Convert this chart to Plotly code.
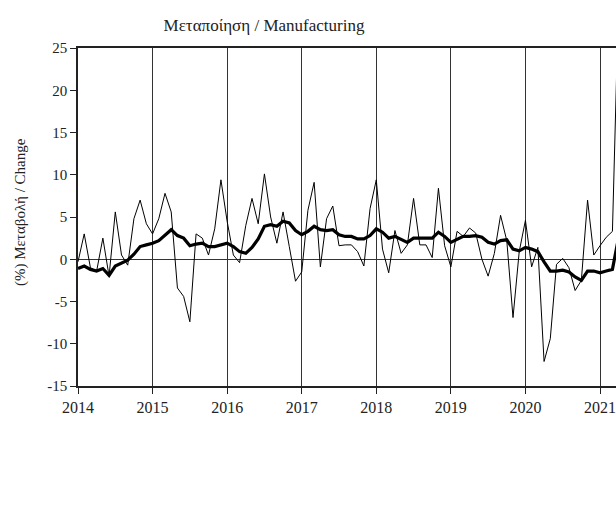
import plotly.graph_objects as go
import pandas as pd

# Monthly year-on-year % change, Manufacturing (Jan 2014 - Apr 2021)
months = pd.period_range("2014-01", "2021-04", freq="M")

monthly_change = [
    -0.3, 3.0, -1.0, -1.4, 2.5, -2.0, 5.6, 0.5, -0.7, 4.8, 7.0, 4.2,      # 2014
    3.0, 4.8, 7.8, 5.6, -3.4, -4.4, -7.4, 3.0, 2.5, 0.5, 3.6, 9.4,       # 2015
    4.5, 0.5, -0.4, 4.0, 7.2, 4.2, 10.1, 5.0, 1.9, 5.6, 1.5, -2.6,       # 2016
    -1.5, 5.8, 9.1, -0.9, 4.8, 6.3, 1.6, 1.7, 1.7, 0.9, -0.8, 6.0,       # 2017
    9.4, 1.2, -1.6, 3.4, 0.7, 1.7, 7.2, 1.7, 1.7, 0.2, 8.4, 1.6,         # 2018
    -0.9, 3.3, 2.7, 3.7, 3.1, 0.0, -2.0, 0.7, 5.2, 2.2, -6.9, 0.9,       # 2019
    4.6, -0.9, 1.4, -12.1, -9.4, -0.6, 0.1, -1.0, -3.7, -2.5, 7.0, 0.5,  # 2020
    1.6, 2.6, 3.3, 31.0,                                                 # 2021
]

moving_avg = [
    -1.1, -0.8, -1.2, -1.4, -1.1, -1.9, -0.8, -0.4, -0.1, 0.6, 1.5, 1.7,
    1.9, 2.2, 2.9, 3.5, 2.8, 2.5, 1.6, 1.8, 1.9, 1.5, 1.5, 1.7,
    1.9, 1.5, 0.9, 0.7, 1.4, 2.4, 3.9, 4.1, 3.9, 4.5, 4.3, 3.4,
    2.9, 3.3, 3.9, 3.5, 3.4, 3.5, 2.9, 2.7, 2.7, 2.4, 2.4, 2.8,
    3.6, 3.2, 2.5, 2.7, 2.4, 2.0, 2.5, 2.5, 2.5, 2.5, 3.2, 2.7,
    2.0, 2.4, 2.7, 2.7, 2.8, 2.6, 2.0, 1.8, 2.2, 2.3, 1.2, 1.0,
    1.4, 1.2, 0.9, -0.3, -1.4, -1.4, -1.3, -1.5, -2.1, -2.5, -1.4, -1.4,
    -1.6, -1.4, -1.2, 2.6,
]

year_ticks = [2014, 2015, 2016, 2017, 2018, 2019, 2020, 2021]
y_ticks = [25, 20, 15, 10, 5, 0, -5, -10, -15]

x = [p.year + (p.month - 1) / 12 for p in months]

FONT = "Liberation Serif"

fig = go.Figure()
fig.add_trace(go.Scatter(x=x, y=monthly_change, mode="lines",
                         line=dict(color="black", width=1), showlegend=False))
fig.add_trace(go.Scatter(x=x, y=moving_avg, mode="lines",
                         line=dict(color="black", width=3.2), showlegend=False))

fig.update_layout(
    width=616, height=505,
    margin=dict(l=78, r=0, t=48, b=119, autoexpand=False),
    paper_bgcolor="white", plot_bgcolor="white",
    font=dict(family=FONT, size=15, color="#222"),
    title=dict(text="Μεταποίηση / Manufacturing", x=264 / 616, xanchor="center",
               y=1 - 25 / 505, yanchor="middle", yref="container",
               font=dict(family=FONT, size=17, color="#222")),
    showlegend=False,
)

fig.update_xaxes(
    range=[2014, 2021 + 16 / 74.57],
    tickvals=year_ticks, ticktext=[str(v) for v in year_ticks],
    tickfont=dict(size=16),
    showgrid=True, gridcolor="#333", gridwidth=1,
    showline=True, linecolor="#222", linewidth=2, mirror=True,
    ticks="outside", ticklen=6, tickcolor="#222",
    zeroline=False, automargin=False,
)
fig.update_yaxes(
    range=[-15, 25],
    tickvals=y_ticks, ticktext=[str(v) for v in y_ticks],
    showgrid=False,
    zeroline=True, zerolinecolor="#333", zerolinewidth=1,
    showline=True, linecolor="#222", linewidth=1.5,
    ticks="outside", ticklen=6, tickcolor="#222",
    automargin=False,
)

fig.add_annotation(text="(%) Μεταβολή / Change", textangle=-90,
                   xref="paper", yref="paper",
                   x=(20 - 78) / 538, y=(386 - 212) / 338,
                   xanchor="center", yanchor="middle", showarrow=False,
                   font=dict(family=FONT, size=15, color="#222"))

fig.write_html("out.html", config={"displayModeBar": False},
               post_script="document.body.style.margin='0';document.body.style.overflow='hidden';")
